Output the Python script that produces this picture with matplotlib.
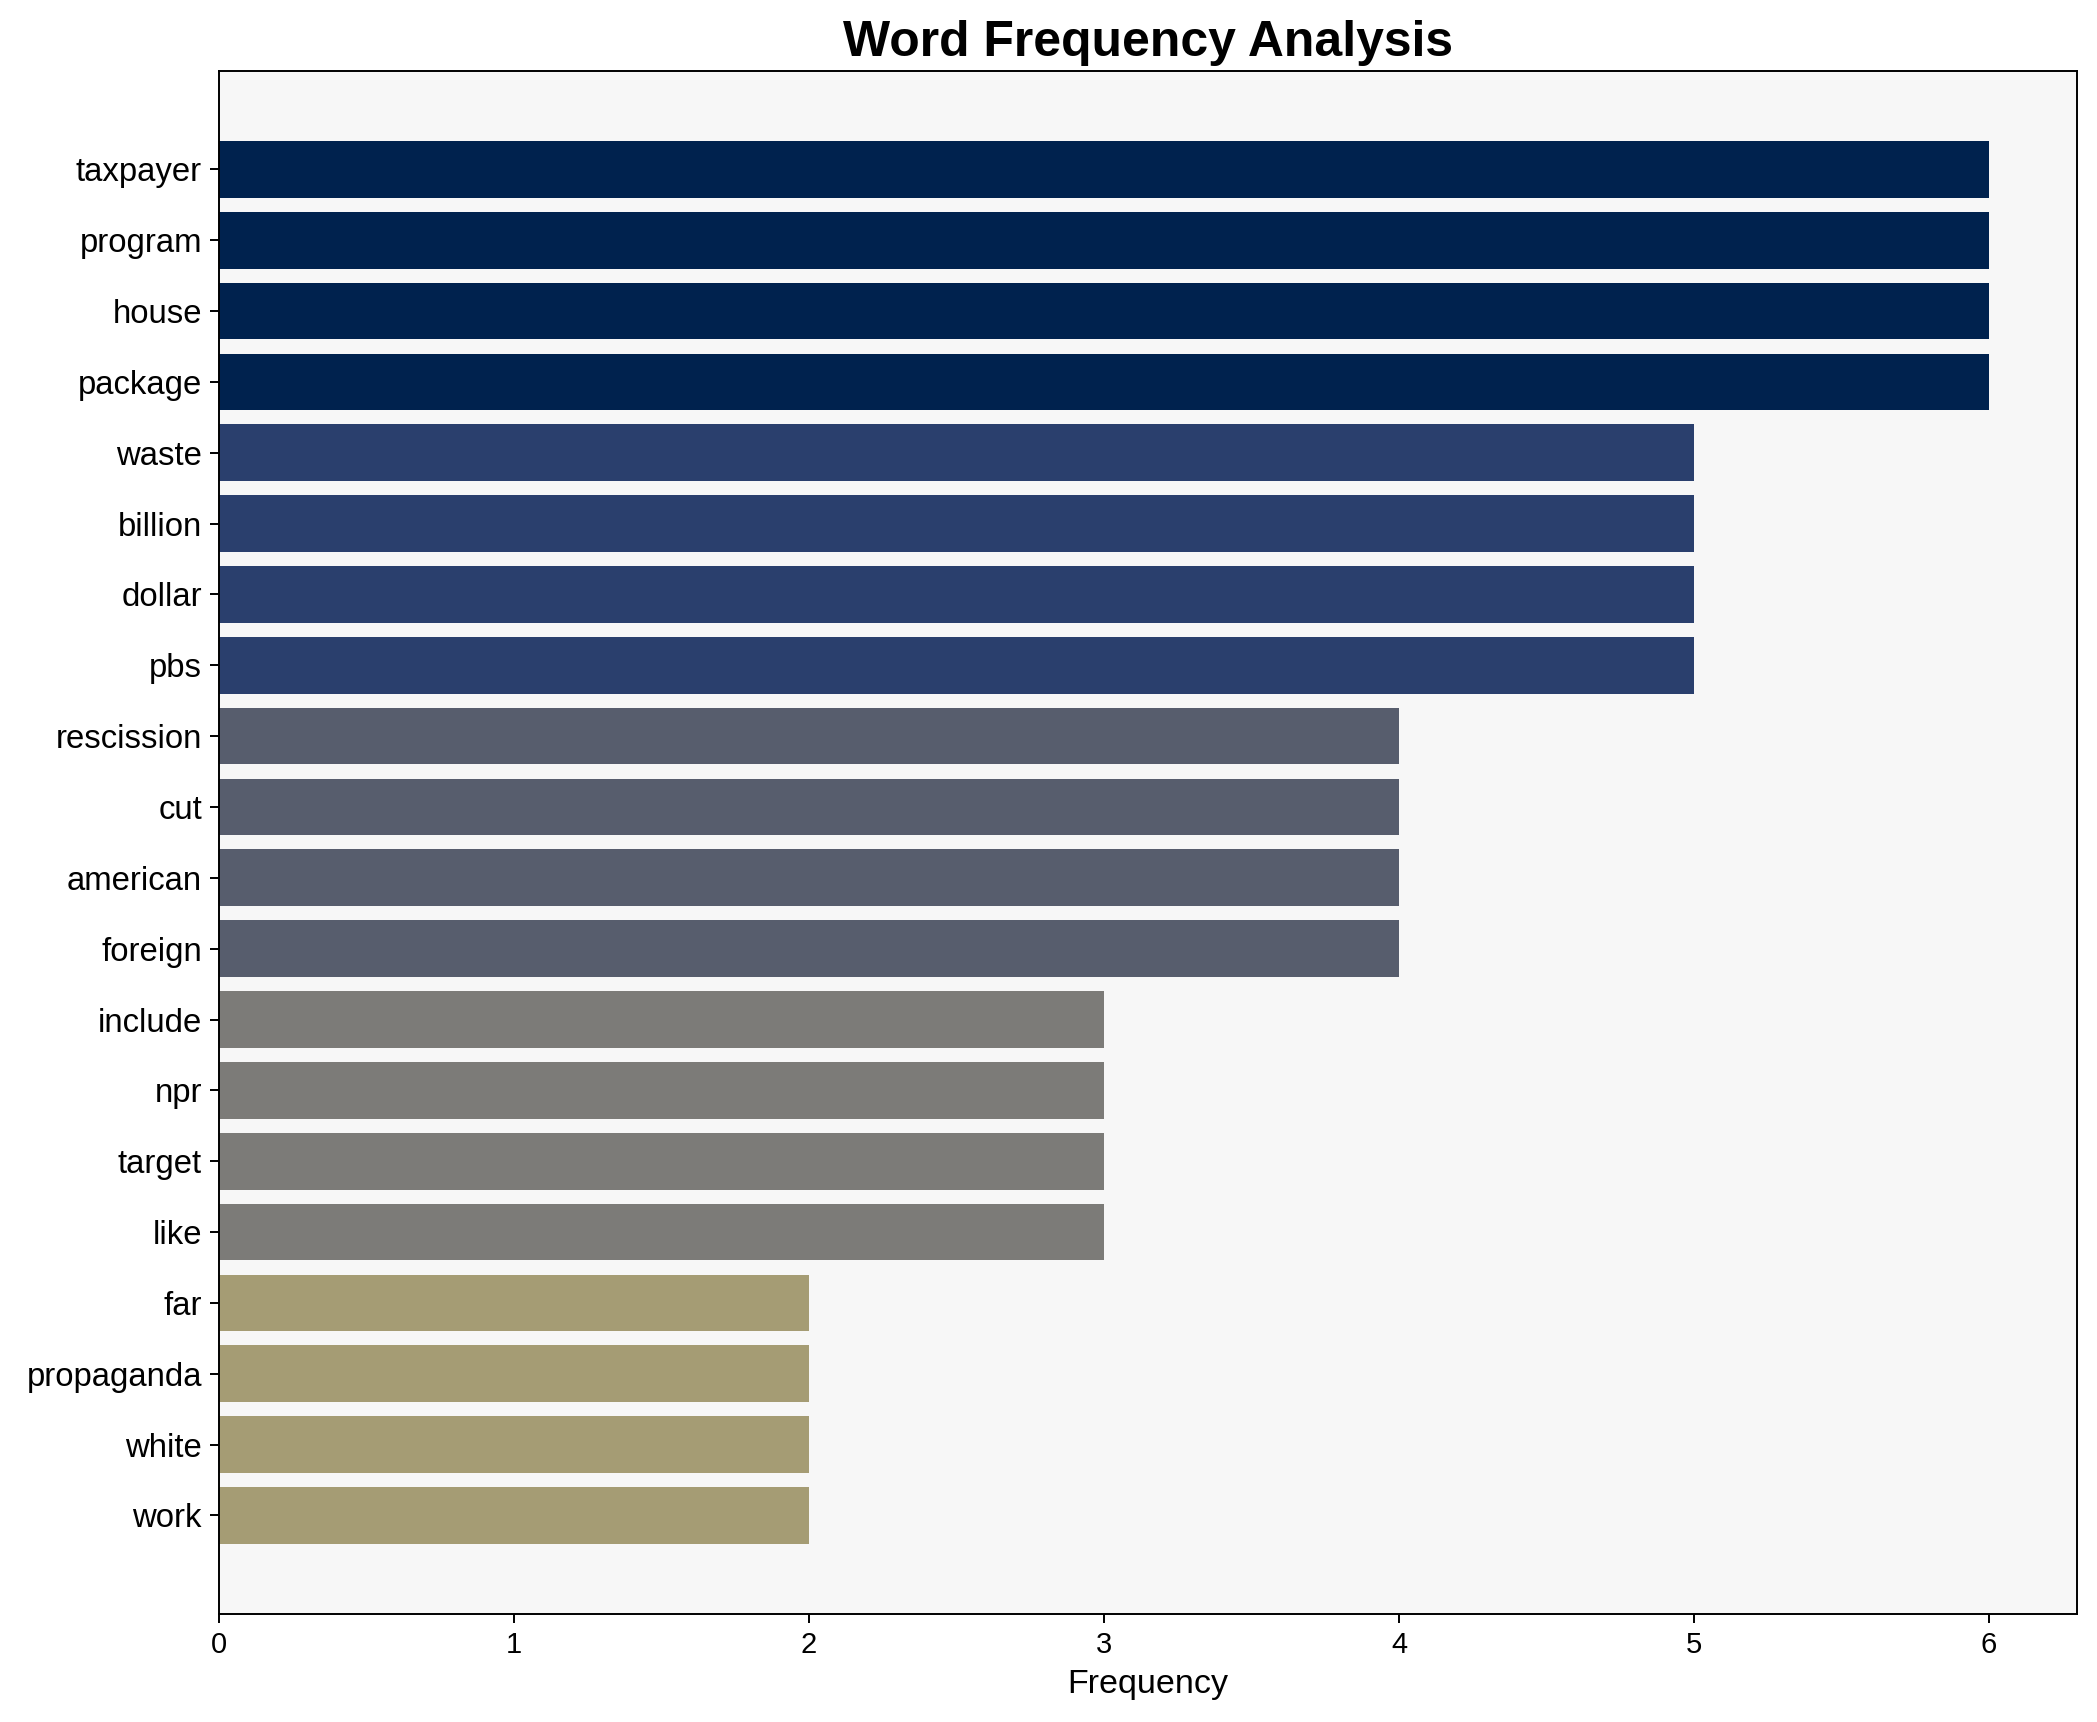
import matplotlib
matplotlib.use("Agg")
import matplotlib.pyplot as plt
import numpy as np

plt.rcParams['font.family'] = ['Liberation Sans', 'DejaVu Sans']

words = ["taxpayer", "program", "house", "package", "waste", "billion", "dollar", "pbs",
         "rescission", "cut", "american", "foreign", "include", "npr", "target", "like",
         "far", "propaganda", "white", "work"]
freqs = [6, 6, 6, 6, 5, 5, 5, 5, 4, 4, 4, 4, 3, 3, 3, 3, 2, 2, 2, 2]

dpi = 175
fig = plt.figure(figsize=(2097 / dpi, 1722 / dpi), dpi=dpi)
left, right, bottom, top = 0.1044, 0.9907, 0.0628, 0.9588
ax = fig.add_axes([left, bottom, right - left, top - bottom])
ax.set_facecolor('#f7f7f7')

vals = np.array(freqs, dtype=float)
colors = plt.cm.cividis_r(vals / vals.max())
y = np.arange(len(words))
ax.barh(y, vals, height=0.8, color=colors)
ax.set_yticks(y)
ax.set_yticklabels(words, fontsize=13.5)
ax.invert_yaxis()
ax.set_xlim(0, vals.max() * 1.05)
ax.tick_params(axis='x', labelsize=12)
ax.set_xlabel("Frequency", fontsize=14)
ax.set_title("Word Frequency Analysis", fontsize=20.5, fontweight='bold')

fig.savefig("out.png", dpi=dpi)
